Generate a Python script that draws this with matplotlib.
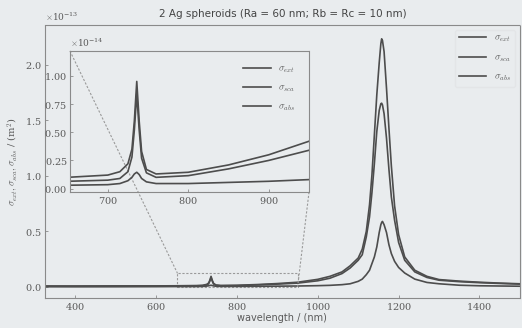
import matplotlib
matplotlib.use('Agg')
import matplotlib.pyplot as plt
from matplotlib.ticker import ScalarFormatter
from mpl_toolkits.axes_grid1.inset_locator import mark_inset

# wavelength grid (nm) and cross sections, in units of 1e-14 m^2
wl = [325, 400, 500, 600, 650, 700, 715, 725, 730, 733, 736, 739, 742, 748, 760, 800,
      850, 900, 950, 1000, 1030, 1060, 1080, 1100, 1110, 1120, 1128, 1134, 1140, 1146,
      1152, 1156, 1158, 1160, 1164, 1170, 1176, 1182, 1190, 1200, 1215, 1240, 1270,
      1300, 1350, 1400, 1450, 1500]
ext = [0.08, 0.08, 0.09, 0.09, 0.10, 0.12, 0.15, 0.22, 0.35, 0.60, 0.95, 0.60, 0.33,
       0.17, 0.13, 0.145, 0.21, 0.30, 0.42, 0.68, 0.95, 1.35, 1.9, 2.6, 3.4, 5.0, 7.4,
       10.1, 13.7, 17.3, 20.2, 21.9, 22.35, 22.2, 21.2, 17.9, 14.3, 10.9, 7.3, 4.7, 2.7,
       1.5, 0.95, 0.66, 0.52, 0.42, 0.34, 0.28]
sca = [0.02, 0.02, 0.03, 0.05, 0.065, 0.075, 0.09, 0.15, 0.28, 0.52, 0.84, 0.52, 0.27,
       0.14, 0.10, 0.115, 0.175, 0.25, 0.34, 0.55, 0.78, 1.2, 1.7, 2.4, 2.9, 4.5, 6.3,
       8.5, 11.1, 14.0, 15.9, 16.5, 16.55, 16.4, 15.6, 13.4, 10.6, 8.1, 6.0, 4.0, 2.4,
       1.35, 0.85, 0.6, 0.47, 0.38, 0.31, 0.25]
absb = [0.05, 0.04, 0.035, 0.03, 0.03, 0.035, 0.045, 0.07, 0.10, 0.13, 0.145, 0.125,
        0.09, 0.06, 0.045, 0.045, 0.055, 0.065, 0.08, 0.11, 0.14, 0.2, 0.28, 0.5, 0.7,
        1.1, 1.5, 2.1, 2.7, 3.6, 4.9, 5.6, 5.8, 5.9, 5.6, 4.9, 3.8, 3.0, 2.3, 1.75, 1.25,
        0.7, 0.4, 0.28, 0.15, 0.1, 0.08, 0.06]
labels = [r'$\sigma_{ext}$', r'$\sigma_{sca}$', r'$\sigma_{abs}$']

bg = '#e9ecee'
lc = '#4d4d4d'
tc = '#5a5a5a'
plt.rcParams['mathtext.fontset'] = 'cm'
plt.rcParams['font.family'] = 'DejaVu Serif'
plt.rcParams['axes.formatter.use_mathtext'] = True

fig = plt.figure(figsize=(5.22, 3.28), dpi=100, facecolor=bg)
ax = fig.add_axes([0.086, 0.0915, 0.91, 0.8325], facecolor=bg)

def style(a):
    for s in a.spines.values():
        s.set_linestyle((0, (1, 1)))
        s.set_color('#8a8a8a')
        s.set_linewidth(0.8)
    a.tick_params(direction='in', length=2, width=0.6, colors='#8a8a8a',
                  labelcolor=tc, labelsize=7, pad=2)
    f = ScalarFormatter(useMathText=True)
    f.set_powerlimits((0, 0))
    a.yaxis.set_major_formatter(f)
    a.yaxis.get_offset_text().set_fontsize(6.5)
    a.yaxis.get_offset_text().set_color(tc)

for y, lab in zip([ext, sca, absb], labels):
    ax.plot(wl, [v * 1e-14 for v in y], color=lc, lw=1.2, label=lab)
ax.set_xlim(325, 1500)
ax.set_ylim(-0.1e-13, 2.36e-13)
ax.set_xticks([400, 600, 800, 1000, 1200, 1400])
ax.set_yticks([0, 0.5e-13, 1.0e-13, 1.5e-13, 2.0e-13])
style(ax)
ax.set_title('2 Ag spheroids (Ra = 60 nm; Rb = Rc = 10 nm)', fontsize=7.5,
             color='#444444', family='DejaVu Sans', pad=6)
ax.set_xlabel('wavelength / (nm)', fontsize=7, color=tc, family='DejaVu Sans', labelpad=1)
ax.set_ylabel(r'$\sigma_{ext}, \sigma_{sca}, \sigma_{abs}$ / (m$^2$)', fontsize=7,
              color=tc, labelpad=4)
leg = ax.legend(loc='upper right', fontsize=7, frameon=True, handlelength=2.8,
                labelspacing=0.9, borderpad=0.4, bbox_to_anchor=(1.0, 1.0))
leg.get_frame().set_facecolor(bg)
leg.get_frame().set_edgecolor('#e2e4e6')
for t in leg.get_texts():
    t.set_color(tc)

axins = fig.add_axes([0.134, 0.4146, 0.458, 0.43], facecolor=bg)
for y, lab in zip([ext, sca, absb], labels):
    axins.plot(wl, [v * 1e-14 for v in y], color=lc, lw=1.2, label=lab)
axins.set_xlim(653, 950)
axins.set_ylim(-0.03e-14, 1.22e-14)
axins.set_xticks([700, 800, 900])
axins.set_yticks([0, 0.25e-14, 0.5e-14, 0.75e-14, 1.0e-14])
style(axins)
leg2 = axins.legend(loc='upper right', fontsize=7, frameon=False, handlelength=2.8,
                    labelspacing=0.9, bbox_to_anchor=(0.98, 0.97))
for t in leg2.get_texts():
    t.set_color(tc)

mark_inset(ax, axins, loc1=2, loc2=4, fc='none', ec='#9a9a9a', lw=0.8, ls=(0, (2, 1.5)))

fig.savefig('out.png', dpi=100, facecolor=bg)
